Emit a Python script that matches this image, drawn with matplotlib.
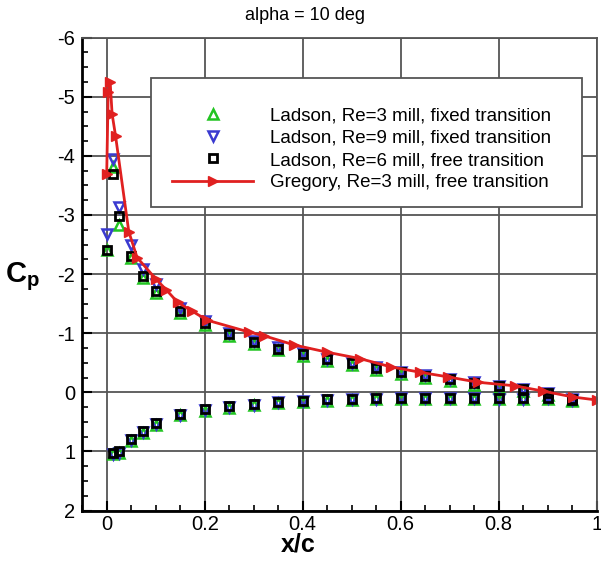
import numpy as np
import matplotlib.pyplot as plt
from matplotlib.patches import Rectangle
from matplotlib.ticker import MultipleLocator

plt.rcParams['font.family'] = ['Liberation Sans', 'DejaVu Sans']
plt.rcParams['mathtext.fontset'] = 'custom'
plt.rcParams['mathtext.rm'] = 'Liberation Sans'
plt.rcParams['mathtext.bf'] = 'Liberation Sans:bold'
plt.rcParams['axes.unicode_minus'] = False

# Ladson, upper surface
x_up = [0.0, 0.0125, 0.025, 0.05, 0.075, 0.1, 0.15, 0.2, 0.25, 0.3, 0.35, 0.4,
        0.45, 0.5, 0.55, 0.6, 0.65, 0.7, 0.75, 0.8, 0.85, 0.9, 0.95]
cp_up_re6 = [-2.41, -3.70, -2.99, -2.30, -1.96, -1.71, -1.37, -1.17, -0.99, -0.85, -0.74, -0.65,
             -0.56, -0.49, -0.41, -0.34, -0.28, -0.22, -0.16, -0.10, -0.05, 0.02, 0.12]
cp_up_re3 = [-2.41, -3.82, -2.83, -2.28, -1.93, -1.68, -1.34, -1.14, -0.96, -0.82, -0.71, -0.62,
             -0.53, -0.46, -0.38, -0.31, -0.25, -0.19, -0.13, -0.08, -0.03, 0.04, 0.13]
cp_up_re9 = [-2.68, -3.94, -3.13, -2.50, -2.09, -1.84, -1.42, -1.20, -1.01, -0.87, -0.76, -0.66,
             -0.57, -0.50, -0.42, -0.35, -0.29, -0.23, -0.17, -0.11, -0.06, 0.01, 0.11]

# Ladson, lower surface
x_lo = [0.0125, 0.025, 0.05, 0.075, 0.1, 0.15, 0.2, 0.25, 0.3, 0.35, 0.4,
        0.45, 0.5, 0.55, 0.6, 0.65, 0.7, 0.75, 0.8, 0.85, 0.9, 0.95]
cp_lo_re6 = [1.02, 1.00, 0.79, 0.65, 0.52, 0.36, 0.29, 0.24, 0.20, 0.16, 0.14,
             0.12, 0.11, 0.10, 0.09, 0.09, 0.09, 0.09, 0.10, 0.10, 0.09, 0.13]
cp_lo_re3 = [1.04, 1.02, 0.82, 0.68, 0.55, 0.39, 0.31, 0.26, 0.22, 0.18, 0.16,
             0.14, 0.13, 0.12, 0.11, 0.11, 0.11, 0.11, 0.12, 0.12, 0.11, 0.14]
cp_lo_re9 = [1.04, 1.02, 0.81, 0.67, 0.54, 0.38, 0.30, 0.25, 0.21, 0.17, 0.15,
             0.13, 0.12, 0.11, 0.10, 0.10, 0.10, 0.10, 0.11, 0.11, 0.10, 0.13]

# Gregory
x_greg = [0.0, 0.003, 0.007, 0.011, 0.018, 0.045, 0.062, 0.10, 0.122, 0.145, 0.175, 0.205,
          0.29, 0.32, 0.383, 0.449, 0.517, 0.58, 0.639, 0.697, 0.758, 0.833, 0.891, 0.952, 1.0]
cp_greg = [-3.70, -5.08, -5.25, -4.71, -4.34, -2.72, -2.28, -1.92, -1.73, -1.52, -1.37, -1.22,
           -1.02, -0.96, -0.80, -0.68, -0.57, -0.43, -0.34, -0.26, -0.17, -0.11, -0.02, 0.08, 0.13]

labels = ['Ladson, Re=3 mill, fixed transition',
          'Ladson, Re=9 mill, fixed transition',
          'Ladson, Re=6 mill, free transition',
          'Gregory, Re=3 mill, free transition']

fig = plt.figure(figsize=(6.01, 5.67), dpi=100)
ax = fig.add_axes([0.1368, 0.0996, 0.856, 0.834])

green = '#22c422'
blue = '#3a3ad0'
red = '#e02020'

ax.plot(x_up + x_lo, cp_up_re3 + cp_lo_re3, linestyle='none', marker='^', ms=6.5,
        mfc='none', mec=green, mew=1.8, label=labels[0])
ax.plot(x_up + x_lo, cp_up_re9 + cp_lo_re9, linestyle='none', marker='v', ms=6.5,
        mfc='none', mec=blue, mew=1.8, label=labels[1])
ax.plot(x_up + x_lo, cp_up_re6 + cp_lo_re6, linestyle='none', marker='s', ms=6,
        mfc='none', mec='black', mew=2, label=labels[2])
ax.plot(x_greg, cp_greg, color=red, lw=2, marker='>', ms=7.5, mfc=red, mec=red,
        label=labels[3])

ax.set_xlim(-0.05, 1.0)
ax.set_ylim(2, -6)
ax.xaxis.set_minor_locator(MultipleLocator(0.05))
ax.yaxis.set_major_locator(MultipleLocator(1))
ax.yaxis.set_minor_locator(MultipleLocator(0.25))
ax.set_xticks(np.arange(0, 1.01, 0.2))
ax.set_xticklabels(['0', '0.2', '0.4', '0.6', '0.8', '1'])
ax.tick_params(which='both', direction='in', top=False, right=False, labelsize=14.5)
ax.tick_params(which='major', length=7, width=1.5)
ax.tick_params(which='minor', length=4, width=1.2)
ax.tick_params(axis='x', pad=3)
ax.tick_params(axis='y', pad=5)
ax.grid(True, which='major', color='#555555', lw=1.3)
for s in ['left', 'bottom']:
    ax.spines[s].set_linewidth(2)
for s in ['top', 'right']:
    ax.spines[s].set_linewidth(1.3)
    ax.spines[s].set_color('#555555')

ax.add_patch(Rectangle((0.134, 0.642), 0.837, 0.272, transform=ax.transAxes,
                       facecolor='white', edgecolor='#555555', lw=1.3, zorder=4))
leg = ax.legend(loc='upper left', bbox_to_anchor=(0.175, 0.853), frameon=False,
                fontsize=13.5, handlelength=4.3, handletextpad=0.9, labelspacing=0.28,
                borderpad=0, borderaxespad=0, numpoints=1)
leg.set_zorder(5)

fig.text(0.507, 0.973, 'alpha = 10 deg', ha='center', va='center', fontsize=13)
fig.text(0.497, 0.040, 'x/c', ha='center', va='center', fontsize=18, fontweight='bold')
fig.text(0.037, 0.512, r'$\mathbf{C}_\mathbf{p}$', ha='center', va='center', fontsize=21)

fig.savefig('out.png', dpi=100)
